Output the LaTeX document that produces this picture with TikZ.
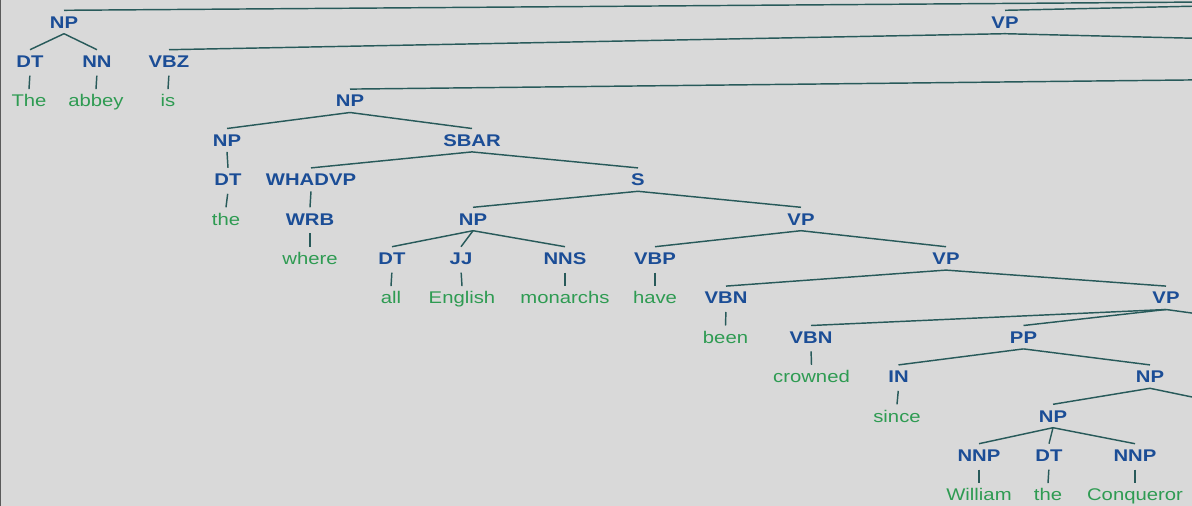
\documentclass[tikz,border=0pt]{standalone}
\usepackage{fontspec}
\newfontfamily\treefont[FakeStretch=1.2]{Liberation Sans}
\definecolor{bg}{HTML}{D9D9D9}
\definecolor{labc}{HTML}{1B4D96}
\definecolor{leafc}{HTML}{2E9B52}
\definecolor{edgec}{HTML}{285A5A}
\definecolor{framec}{HTML}{5A5A5A}
\begin{document}
\begin{tikzpicture}[x=1pt,y=-1pt,
  tag/.style={inner sep=0pt, text height=17.5pt, text depth=5.5pt,
    font=\treefont\fontsize{16.9}{20}\selectfont\bfseries, text=labc},
  word/.style={inner sep=0pt, text height=17.5pt, text depth=5.5pt,
    font=\treefont\fontsize{16.9}{20}\selectfont, text=leafc},
  branch/.style={draw=edgec, line width=1.45pt},
  leafline/.style={branch, shorten <=2.5pt}]
\useasboundingbox (0,0) rectangle (1192,506);
\fill[bg] (0,0) rectangle (1192,506);
\begin{scope}
\clip (0,0) rectangle (1192,506);
% off-canvas parents / children
\coordinate (root) at (1480,0);
\coordinate (vpR) at (1250,39.6);
\coordinate (npP) at (1250,79.3);
\coordinate (vp7R) at (1250,321);
\coordinate (np9R) at (1250,409);
% row 0
\node[tag] (np0) at (64,22) {NP};
\node[tag] (vp0) at (1005,22) {VP};
% row 1
\node[tag] (dt1) at (30,61.4) {DT};
\node[tag] (nn1) at (97,61.4) {NN};
\node[tag] (vbz) at (169,61.4) {VBZ};
% row 2
\node[word] (wThe) at (29,100.8) {The};
\node[word] (wabbey) at (96,100.8) {abbey};
\node[word] (wis) at (168,100.8) {is};
\node[tag] (np2) at (350,100.8) {NP};
% row 3
\node[tag] (np3) at (227,140.2) {NP};
\node[tag] (sbar) at (472,140.2) {SBAR};
% row 4
\node[tag] (dt4) at (228,179.6) {DT};
\node[tag] (whadvp) at (311,179.6) {WHADVP};
\node[tag] (s4) at (638,179.6) {S};
% row 5
\node[word] (wthe1) at (226,219) {the};
\node[tag] (wrb) at (310,219) {WRB};
\node[tag] (np5) at (473,219) {NP};
\node[tag] (vp5) at (801,219) {VP};
% row 6
\node[word] (wwhere) at (310,258.4) {where};
\node[tag] (dt6) at (392,258.4) {DT};
\node[tag] (jj) at (461,258.4) {JJ};
\node[tag] (nns) at (565,258.4) {NNS};
\node[tag] (vbp) at (655,258.4) {VBP};
\node[tag] (vp6) at (946,258.4) {VP};
% row 7
\node[word] (wall) at (391,297.8) {all};
\node[word] (wenglish) at (462,297.8) {English};
\node[word] (wmonarchs) at (565,297.8) {monarchs};
\node[word] (whave) at (655,297.8) {have};
\node[tag] (vbn7) at (726,297.8) {VBN};
\node[tag] (vp7) at (1166,297.8) {VP};
% row 8
\node[word] (wbeen) at (725.5,337.2) {been};
\node[tag] (vbn8) at (811,337.2) {VBN};
\node[tag] (pp) at (1023.5,337.2) {PP};
% row 9
\node[word] (wcrowned) at (811.5,376.6) {crowned};
\node[tag] (in9) at (898.5,376.6) {IN};
\node[tag] (np9) at (1150,376.6) {NP};
% row 10
\node[word] (wsince) at (897,416) {since};
\node[tag] (np10) at (1053,416) {NP};
% row 11
\node[tag] (nnpA) at (979,455.4) {NNP};
\node[tag] (dt11) at (1049,455.4) {DT};
\node[tag] (nnpB) at (1135,455.4) {NNP};
% row 12
\node[word] (wwilliam) at (979,494.8) {William};
\node[word] (wthe2) at (1048,494.8) {the};
\node[word] (wconq) at (1135,494.8) {Conqueror};
% branches
\draw[branch] (root) -- (np0.north);
\draw[branch] (root) -- (vp0.north);
\draw[branch] (np0.south) -- (dt1.north);
\draw[branch] (np0.south) -- (nn1.north);
\draw[branch] (vp0.south) -- (vbz.north);
\draw[branch] (vp0.south) -- (vpR);
\draw[branch] (npP) -- (np2.north);
\draw[branch] (np2.south) -- (np3.north);
\draw[branch] (np2.south) -- (sbar.north);
\draw[branch] (np3.south) -- (dt4.north);
\draw[branch] (sbar.south) -- (whadvp.north);
\draw[branch] (sbar.south) -- (s4.north);
\draw[branch] (whadvp.south) -- (wrb.north);
\draw[branch] (s4.south) -- (np5.north);
\draw[branch] (s4.south) -- (vp5.north);
\draw[branch] (np5.south) -- (dt6.north);
\draw[branch] (np5.south) -- (jj.north);
\draw[branch] (np5.south) -- (nns.north);
\draw[branch] (vp5.south) -- (vbp.north);
\draw[branch] (vp5.south) -- (vp6.north);
\draw[branch] (vp6.south) -- (vbn7.north);
\draw[branch] (vp6.south) -- (vp7.north);
\draw[branch] (vp7.south) -- (vbn8.north);
\draw[branch] (vp7.south) -- (pp.north);
\draw[branch] (vp7.south) -- (vp7R);
\draw[branch] (pp.south) -- (in9.north);
\draw[branch] (pp.south) -- (np9.north);
\draw[branch] (np9.south) -- (np10.north);
\draw[branch] (np9.south) -- (np9R);
\draw[branch] (np10.south) -- (nnpA.north);
\draw[branch] (np10.south) -- (dt11.north);
\draw[branch] (np10.south) -- (nnpB.north);
% leaf lines
\draw[leafline] (dt1.south) -- (wThe.north);
\draw[leafline] (nn1.south) -- (wabbey.north);
\draw[leafline] (vbz.south) -- (wis.north);
\draw[leafline] (dt4.south) -- (wthe1.north);
\draw[leafline] (wrb.south) -- (wwhere.north);
\draw[leafline] (dt6.south) -- (wall.north);
\draw[leafline] (jj.south) -- (wenglish.north);
\draw[leafline] (nns.south) -- (wmonarchs.north);
\draw[leafline] (vbp.south) -- (whave.north);
\draw[leafline] (vbn7.south) -- (wbeen.north);
\draw[leafline] (vbn8.south) -- (wcrowned.north);
\draw[leafline] (in9.south) -- (wsince.north);
\draw[leafline] (nnpA.south) -- (wwilliam.north);
\draw[leafline] (dt11.south) -- (wthe2.north);
\draw[leafline] (nnpB.south) -- (wconq.north);
\end{scope}
\draw[framec, line width=1.2pt] (0.6,0) -- (0.6,506);
\end{tikzpicture}
\end{document}
